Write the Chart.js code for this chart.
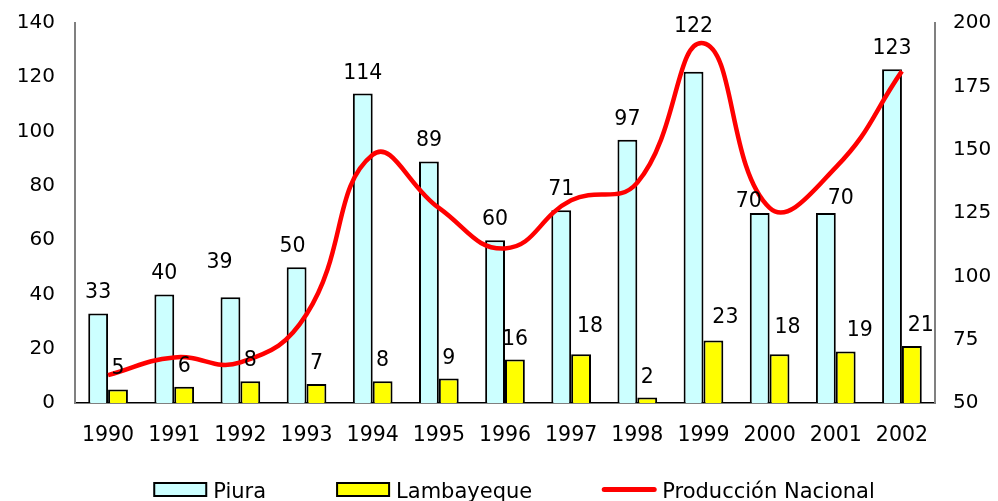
<!DOCTYPE html>
<html>
<head>
<meta charset="utf-8">
<script src="https://cdn.jsdelivr.net/npm/chart.js@4/dist/chart.umd.min.js"></script>
<style>
  html, body { margin: 0; padding: 0; background: #ffffff; }
  #wrap { position: relative; width: 998px; height: 501px; }
</style>
</head>
<body>
<div id="wrap"><canvas id="chart" width="998" height="501"></canvas></div>
<script>
// Years on the category axis
const years = ['1990','1991','1992','1993','1994','1995','1996','1997','1998','1999','2000','2001','2002'];
// Regional production (left axis)
const piura = [33, 40, 39, 50, 114, 89, 60, 71, 97, 122, 70, 70, 123];
const lambayeque = [5, 6, 8, 7, 8, 9, 16, 18, 2, 23, 18, 19, 21];
// National production (right axis)
const produccionNacional = [61, 68, 66, 85, 148, 127, 111, 130, 137, 192, 127, 143, 181];
// Axis tick ranges
const leftTicks = { min: 0, max: 140, step: 20 };
const rightTicks = { min: 50, max: 200, step: 25 };

const FONT = "'DejaVu Sans', Verdana, sans-serif";

// Hand-placed value labels that sit away from the default spot (pixel nudges)
const labelNudges = {
  'Piura': { 2: [-11, -14], 3: [-4, 0], 9: [0, -25], 10: [-11, 9], 11: [15, 6] },
  'Lambayeque': { 7: [9, -7], 9: [12, -3], 10: [8, -6], 11: [14, 0], 12: [9, 0] }
};

// Value labels above each bar
const barValueLabels = {
  id: 'barValueLabels',
  afterDatasetsDraw(chart) {
    const ctx = chart.ctx;
    ctx.save();
    ctx.font = '20.5px ' + FONT;
    ctx.fillStyle = '#000000';
    ctx.textAlign = 'center';
    ctx.textBaseline = 'alphabetic';
    chart.data.datasets.forEach((ds, di) => {
      if (ds.type !== 'bar') return;
      const meta = chart.getDatasetMeta(di);
      const nudges = labelNudges[ds.label] || {};
      meta.data.forEach((bar, i) => {
        const [dx, dy] = nudges[i] || [0, 0];
        ctx.fillText(String(ds.data[i]), bar.x + dx, bar.y - 15 + dy);
      });
    });
    ctx.restore();
  }
};

// Legend row along the bottom
const bottomLegend = {
  id: 'bottomLegend',
  afterDraw(chart) {
    const ctx = chart.ctx;
    ctx.save();
    ctx.font = '21px ' + FONT;
    const swatchW = 54, swatchH = 15, textGap = 6, itemGap = 70;
    const items = chart.data.datasets.map(ds => ({
      text: ds.label, type: ds.type, fill: ds.backgroundColor, stroke: ds.borderColor
    }));
    const widths = items.map(it => swatchW + textGap + ctx.measureText(it.text).width);
    const total = widths.reduce((a, b) => a + b, 0) + itemGap * (items.length - 1);
    let x = chart.width / 2 + 15 - total / 2;
    const cy = 489.5;
    items.forEach((it, i) => {
      if (it.type === 'line') {
        ctx.strokeStyle = it.stroke;
        ctx.lineWidth = 5;
        ctx.lineCap = 'round';
        ctx.beginPath();
        ctx.moveTo(x + 2, cy);
        ctx.lineTo(x + swatchW - 2, cy);
        ctx.stroke();
      } else {
        ctx.fillStyle = it.fill;
        ctx.fillRect(x, cy - swatchH / 2, swatchW, swatchH);
        ctx.strokeStyle = '#000000';
        ctx.lineWidth = 2;
        ctx.strokeRect(x + 1, cy - swatchH / 2 + 1, swatchW - 2, swatchH - 2);
      }
      ctx.fillStyle = '#000000';
      ctx.textAlign = 'left';
      ctx.textBaseline = 'alphabetic';
      ctx.fillText(it.text, x + swatchW + textGap, cy + 8);
      x += widths[i] + itemGap;
    });
    ctx.restore();
  }
};

new Chart(document.getElementById('chart'), {
  data: {
    labels: years,
    datasets: [
      {
        type: 'bar',
        label: 'Piura',
        data: piura,
        backgroundColor: '#CCFFFF',
        borderColor: '#000000',
        borderWidth: 2,
        yAxisID: 'y',
        order: 1,
        categoryPercentage: 0.6,
        barPercentage: 1.0
      },
      {
        type: 'bar',
        label: 'Lambayeque',
        data: lambayeque,
        backgroundColor: '#FFFF00',
        borderColor: '#000000',
        borderWidth: 2,
        yAxisID: 'y',
        order: 1,
        categoryPercentage: 0.6,
        barPercentage: 1.0
      },
      {
        type: 'line',
        label: 'Producción Nacional',
        data: produccionNacional,
        borderColor: '#FF0000',
        backgroundColor: '#FF0000',
        borderWidth: 4.5,
        pointRadius: 0,
        tension: 0.45,
        fill: false,
        yAxisID: 'y1',
        order: 0
      }
    ]
  },
  options: {
    responsive: false,
    animation: false,
    events: [],
    layout: { padding: { left: 17, right: 7, top: 23, bottom: 54 } },
    plugins: {
      legend: { display: false },
      tooltip: { enabled: false }
    },
    scales: {
      x: {
        offset: true,
        grid: { display: false, drawTicks: false },
        border: { display: true, color: '#000000', width: 1.5 },
        ticks: { color: '#000000', font: { family: FONT, size: 20.5 }, padding: 20, maxRotation: 0 },
        afterFit(s) { s.height = 44; s.paddingLeft = 0; s.paddingRight = 0; }
      },
      y: {
        position: 'left',
        min: leftTicks.min,
        max: leftTicks.max,
        grid: { display: false, drawTicks: false },
        border: { display: true, color: '#808080', width: 2 },
        ticks: { stepSize: leftTicks.step, color: '#000000', font: { family: FONT, size: 20 }, padding: 20 },
        afterFit(s) { s.width = 58; s.paddingTop = 0; s.paddingBottom = 0; }
      },
      y1: {
        position: 'right',
        min: rightTicks.min,
        max: rightTicks.max,
        grid: { display: false, drawTicks: false },
        border: { display: true, color: '#808080', width: 2 },
        ticks: { stepSize: rightTicks.step, color: '#000000', font: { family: FONT, size: 20 }, padding: 18 },
        afterFit(s) { s.width = 56; s.paddingTop = 0; s.paddingBottom = 0; }
      }
    }
  },
  plugins: [barValueLabels, bottomLegend]
});
</script>
</body>
</html>
